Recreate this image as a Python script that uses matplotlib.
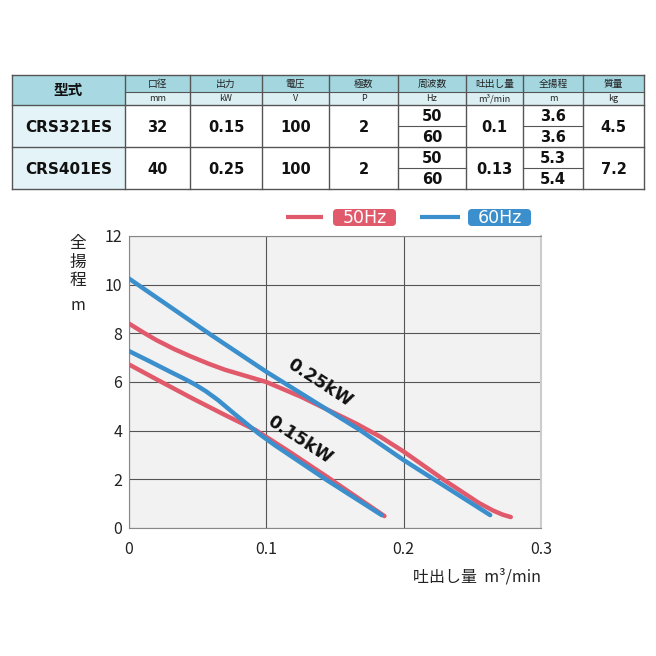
import matplotlib
matplotlib.use("Agg")
import matplotlib.pyplot as plt
from matplotlib.patches import Rectangle, FancyBboxPatch

plt.rcParams['font.family'] = ['Noto Sans CJK JP', 'DejaVu Sans']

# Spec table
HEADERS = ["型式", "口径", "出力", "電圧", "極数", "周波数", "吐出し量", "全揚程", "質量"]
UNITS = ["", "mm", "kW", "V", "P", "Hz", "m³/min", "m", "kg"]
MODELS = ["CRS321ES", "CRS401ES"]
BORE = ["32", "40"]
POWER = ["0.15", "0.25"]
VOLT = ["100", "100"]
POLES = ["2", "2"]
FREQ = [["50", "60"], ["50", "60"]]
FLOW = ["0.1", "0.13"]
HEAD = [["3.6", "3.6"], ["5.3", "5.4"]]
MASS = ["4.5", "7.2"]

# Performance curves (flow m3/min, head m)
Q_25_50 = [0, 0.01, 0.02, 0.033, 0.045, 0.058, 0.07, 0.085, 0.10, 0.125, 0.145, 0.165,
           0.183, 0.20, 0.23, 0.255, 0.265, 0.272, 0.278]
H_25_50 = [8.4, 8.05, 7.72, 7.35, 7.05, 6.75, 6.5, 6.25, 6.0, 5.4, 4.85, 4.3,
           3.75, 3.14, 1.95, 1.02, 0.72, 0.55, 0.45]
Q_25_60 = [0, 0.058, 0.10, 0.168, 0.20, 0.263]
H_25_60 = [10.25, 8.0, 6.42, 4.03, 2.79, 0.53]
Q_15_50 = [0, 0.021, 0.046, 0.07, 0.092, 0.115, 0.144, 0.186]
H_15_50 = [6.72, 6.08, 5.33, 4.64, 4.03, 3.2, 2.11, 0.49]
Q_15_60 = [0, 0.015, 0.03, 0.04, 0.048, 0.056, 0.065, 0.077, 0.094, 0.106, 0.144, 0.184]
H_15_60 = [7.27, 6.85, 6.42, 6.14, 5.9, 5.62, 5.25, 4.68, 3.9, 3.41, 1.97, 0.53]

RED = "#e05a6b"
BLUE = "#3a8fcc"
BOLD = dict(fontfamily="DejaVu Sans", fontweight="bold")

fig = plt.figure(figsize=(6.56, 6.56), dpi=100)

# ---- table (pixel coordinates) ----
tax = fig.add_axes([0, 0, 1, 1])
tax.set_xlim(0, 656)
tax.set_ylim(656, 0)
tax.axis("off")

cols = [12, 125, 190, 262, 329, 398, 466, 523, 583, 644]
top, mid, hdr, r1, r2 = 75, 92, 105, 147, 189
edge = "#555555"

tax.add_patch(Rectangle((cols[0], top), cols[1] - cols[0], hdr - top, fc="#a8d9e2", ec="none"))
tax.add_patch(Rectangle((cols[1], top), cols[-1] - cols[1], mid - top, fc="#a3d6df", ec="none"))
tax.add_patch(Rectangle((cols[1], mid), cols[-1] - cols[1], hdr - mid, fc="#dcf0f4", ec="none"))
tax.add_patch(Rectangle((cols[0], hdr), cols[1] - cols[0], r2 - hdr, fc="#e4f3f8", ec="none"))

for x in cols:
    tax.plot([x, x], [top, r2], color=edge, lw=1)
for y in [top, hdr, r1, r2]:
    tax.plot([cols[0], cols[-1]], [y, y], color=edge, lw=1)
tax.plot([cols[1], cols[-1]], [mid, mid], color=edge, lw=0.8)
for c in (5, 7):
    for y in ((hdr + r1) / 2, (r1 + r2) / 2):
        tax.plot([cols[c], cols[c + 1]], [y, y], color=edge, lw=0.8)

tax.text((cols[0] + cols[1]) / 2, (top + hdr) / 2, HEADERS[0], ha="center", va="center",
         fontsize=10.5, fontweight="bold", color="#111")
for i in range(1, 9):
    cx = (cols[i] + cols[i + 1]) / 2
    tax.text(cx, (top + mid) / 2, HEADERS[i], ha="center", va="center", fontsize=7, color="#222")
    tax.text(cx, (mid + hdr) / 2, UNITS[i], ha="center", va="center", fontsize=6.5, color="#222")

rows = [(hdr, r1), (r1, r2)]
for k, (y0, y1) in enumerate(rows):
    ym = (y0 + y1) / 2
    single = [MODELS[k], BORE[k], POWER[k], VOLT[k], POLES[k], None, FLOW[k], None, MASS[k]]
    for i, val in enumerate(single):
        if val is None:
            continue
        cx = (cols[i] + cols[i + 1]) / 2
        tax.text(cx, ym + 1, val, ha="center", va="center", fontsize=11 if i == 0 else 10.5,
                 color="#111", **BOLD)
    for i, pair in ((5, FREQ[k]), (7, HEAD[k])):
        cx = (cols[i] + cols[i + 1]) / 2
        tax.text(cx, (y0 + ym) / 2 + 1, pair[0], ha="center", va="center", fontsize=10.5,
                 color="#111", **BOLD)
        tax.text(cx, (ym + y1) / 2 + 1, pair[1], ha="center", va="center", fontsize=10.5,
                 color="#111", **BOLD)

# ---- legend ----
for (x0, x1, bx, label, col) in [(286, 323, 333, "50Hz", RED), (420, 460, 468, "60Hz", BLUE)]:
    tax.plot([x0, x1], [217, 217], color=col, lw=3, solid_capstyle="butt")
    tax.add_patch(FancyBboxPatch((bx, 209), 63, 17, boxstyle="round,pad=0,rounding_size=4",
                                 fc=col, ec="none"))
    tax.text(bx + 31.5, 218, label, ha="center", va="center", fontsize=12.5, color="white",
             fontfamily="DejaVu Sans", fontweight="medium")

# ---- chart ----
ax = fig.add_axes([129 / 656, 1 - 528 / 656, (541 - 129) / 656, (528 - 236) / 656])
ax.set_facecolor("#f2f2f2")
ax.set_xlim(0, 0.3)
ax.set_ylim(0, 12)
ax.set_xticks([0, 0.1, 0.2, 0.3])
ax.set_xticklabels(["0", "0.1", "0.2", "0.3"])
ax.set_yticks(range(0, 13, 2))
ax.grid(True, color="#555555", lw=0.8)
ax.set_axisbelow(True)
ax.tick_params(length=0, labelsize=11.5, labelcolor="#222")
ax.tick_params(axis="x", pad=9)
ax.tick_params(axis="y", pad=5)
for s in ax.spines.values():
    s.set_color("#888888")
    s.set_linewidth(0.8)
ax.spines["right"].set_color("#cccccc")
ax.spines["right"].set_linewidth(1.5)

for q, h, c in [(Q_25_50, H_25_50, RED), (Q_15_50, H_15_50, RED),
                (Q_25_60, H_25_60, BLUE), (Q_15_60, H_15_60, BLUE)]:
    ax.plot(q, h, color=c, lw=3.2, solid_capstyle="round", solid_joinstyle="round", zorder=3)

ax.text(0.139, 5.96, "0.25kW", rotation=-33, ha="center", va="center", fontsize=12.5,
        color="#111", zorder=4, **BOLD)
ax.text(0.1245, 3.62, "0.15kW", rotation=-33, ha="center", va="center", fontsize=12.5,
        color="#111", zorder=4, **BOLD)

fig.text(78 / 656, 1 - 262 / 656, "全\n揚\n程", ha="center", va="center", fontsize=12,
         linespacing=1.1, color="#222")
fig.text(78 / 656, 1 - 305 / 656, "m", ha="center", va="center", fontsize=11.5, color="#222")
fig.text(541 / 656, 1 - 577 / 656, "吐出し量  m³/min", ha="right", va="center", fontsize=11.5,
         color="#222")

fig.savefig("out.png", dpi=100)
